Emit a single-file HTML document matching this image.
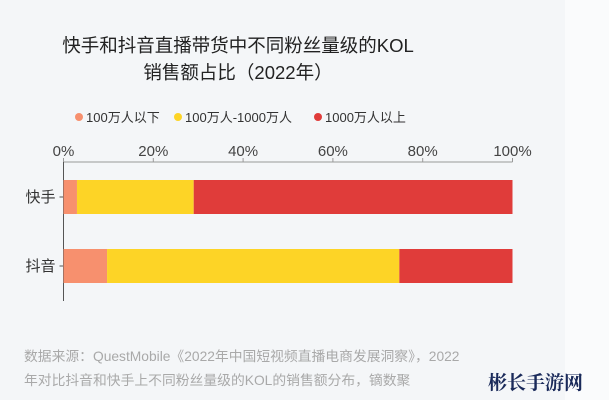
<!DOCTYPE html>
<html><head><meta charset="utf-8"><style>
body{margin:0;width:609px;height:400px;overflow:hidden;background:#f4f6f8;font-family:"Liberation Sans","Noto Sans CJK SC",sans-serif;position:relative}
.t{position:absolute;left:0;width:476px;text-align:center;font-size:18.5px;color:#222}
.foot{position:absolute;left:24px;font-size:13.8px;color:#a9a9a9;white-space:nowrap}
</style></head><body>
<div style="position:absolute;right:0;top:0;width:44px;height:400px;background:#fafbfc"></div>
<div class="t" style="top:32px">快手和抖音直播带货中不同粉丝量级的KOL</div>
<div class="t" style="top:59px">销售额占比（2022年）</div>
<svg id="c" width="609" height="400" style="position:absolute;left:0;top:0"></svg>
<div class="foot" style="top:345px">数据来源：QuestMobile《2022年中国短视频直播电商发展洞察》，2022</div>
<div class="foot" style="top:369px">年对比抖音和快手上不同粉丝量级的KOL的销售额分布，镝数聚</div>
<div style="position:absolute;left:488px;top:368px;font-size:19px;font-weight:bold;color:#1a2a5a;font-family:'Noto Serif CJK SC',serif">彬长手游网</div>
<script>
const categories=["快手","抖音"];
const seriesNames=["100万人以下","100万人-1000万人","1000万人以上"];
const small=[3,9.7];
const mid=[26,65.1];
const large=[71,25.2];
const ticks=[0,20,40,60,80,100];
const colors=["#f7906e","#fdd426","#e03c3a"];
const svg=document.getElementById('c');const NS="http://www.w3.org/2000/svg";
const x0=63.5,x1=512.5,xs=v=>x0+(x1-x0)*v/100;
const rowTop=[180,249],bh=34;
function el(t,a,txt){const e=document.createElementNS(NS,t);for(const k in a)e.setAttribute(k,a[k]);if(txt!=null)e.textContent=txt;svg.appendChild(e);return e;}
// legend
const lx=[79,178,318];
seriesNames.forEach((n,i)=>{
const c=el('circle',{cx:lx[i],cy:117,r:4,fill:colors[i]});


const t=el('text',{x:lx[i]+7,y:122,'font-size':13,fill:'#333'},n);


});
// axes
const ax=el('line',{x1:x0,y1:162,x2:x1,y2:162,stroke:'#999','stroke-width':1});


const ay=el('line',{x1:x0,y1:162,x2:x0,y2:301,stroke:'#555','stroke-width':1});


ticks.forEach(v=>{
const l=el('line',{x1:xs(v),y1:158,x2:xs(v),y2:162,stroke:'#999'});


const t=el('text',{x:xs(v),y:156,'font-size':15,fill:'#444','text-anchor':'middle'},v+'%');


});
categories.forEach((c,i)=>{
const y=rowTop[i];
const t=el('text',{x:x0-8,y:y+bh/2+5,'font-size':15,fill:'#333','text-anchor':'end'},c);


const tk=el('line',{x1:x0-4,y1:y+bh/2,x2:x0,y2:y+bh/2,stroke:'#555'});


let acc=0;
[small[i],mid[i],large[i]].forEach((v,j)=>{
const r=el('rect',{x:xs(acc),y:y,width:xs(acc+v)-xs(acc),height:bh,fill:colors[j]});


acc+=v;
});
});
</script>
</body></html>
